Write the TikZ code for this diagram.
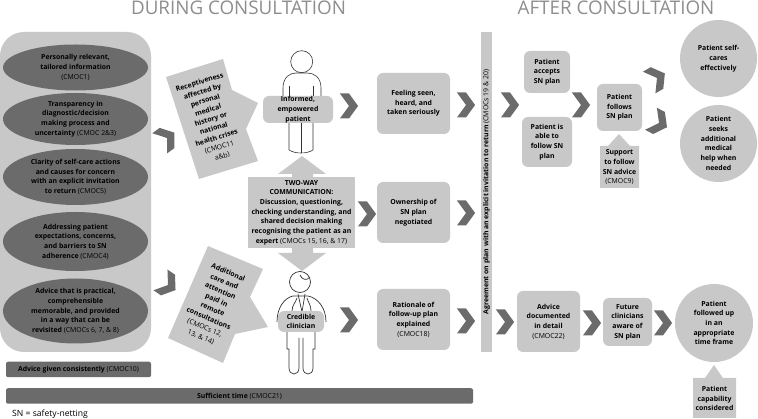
\documentclass[tikz,border=0pt]{standalone}
\usepackage{fontspec}
\setmainfont{Open Sans}
\usetikzlibrary{shapes.geometric, shapes.symbols}
\definecolor{lite}{HTML}{C8C8C8}
\definecolor{dark}{HTML}{6B6B6B}
\definecolor{head}{HTML}{8E8E8E}
\newcommand{\plain}[1]{{\mdseries #1}}

\begin{document}
\begin{tikzpicture}[
    x=1pt, y=-1pt,
    txt/.style={align=center, inner sep=0pt,
                font=\fontsize{6.9}{9.7}\selectfont\bfseries},
    box/.style={txt, fill=lite, rounded corners=6pt},
    oval/.style={txt, ellipse, fill=dark, minimum width=145},
    disc/.style={txt, circle, fill=lite, minimum size=77},
    bar/.style={txt, fill=dark, rounded corners=2pt, minimum height=15.5},
    chev/.style={signal, signal to=east, signal from=west, signal pointer angle=108,
                 fill=dark, inner sep=0pt, minimum width=17, minimum height=25},
    title/.style={inner sep=0pt, text=head, font=\fontsize{18.8}{20}\selectfont},
    figline/.style={line width=0.6pt, black!80}
  ]
  \useasboundingbox (0,0) rectangle (758,419);

  % Headings
  \node[title] (during) at (238.5,7.5) {DURING CONSULTATION};
  \node[title] (after) at (616,7.5) {AFTER CONSULTATION};

  % Left panel and ovals
  \fill[lite, rounded corners=24pt] (0,32) rectangle (151,352);
  \node[oval, minimum height=46] (oval1) at (75.5,67.5)
    {Personally relevant,\\tailored information\\\plain{(CMOC1)}};
  \node[oval, minimum height=52] (oval2) at (75.5,119)
    {Transparency in\\diagnostic/decision\\making process and\\uncertainty \plain{(CMOC 2\&3)}};
  \node[oval, minimum height=56] (oval3) at (75.5,177)
    {Clarity of self-care actions\\and causes for concern\\with an explicit invitation\\to return \plain{(CMOC5)}};
  \node[oval, minimum height=59] (oval4) at (75.5,241.5)
    {Addressing patient\\expectations, concerns,\\and barriers to SN\\adherence \plain{(CMOC4)}};
  \node[oval, minimum height=65] (oval5) at (75.5,311)
    {Advice that is practical,\\comprehensible\\memorable, and provided\\in a way that can be\\revisited \plain{(CMOCs 6, 7, \& 8)}};

  % Bars at the bottom
  \node[bar, minimum width=145] (consistent) at (78.5,369.5)
    {Advice given consistently \plain{(CMOC10)}};
  \node[bar, minimum width=467] (time) at (239.5,396)
    {Sufficient time \plain{(CMOC21)}};
  \node[inner sep=0pt, anchor=west, font=\fontsize{8.6}{10}\selectfont] (key) at (12,414)
    {SN = safety-netting};

  % Patient
  \draw[figline] (301.7,61.7) circle (11);
  \draw[figline] (283,97) -- (283,88) .. controls (283,77) and (290,73) .. (296,73)
    -- (307,73) .. controls (314,73) and (321,77) .. (321,88) -- (321,97);
  \draw[figline] (289,86) -- (289,98);
  \draw[figline] (313,86) -- (313,98);
  \draw[figline] (289,122) -- (289,150) .. controls (295,154) and (307,154) .. (313,150) -- (313,122);
  \draw[figline] (301.5,122) -- (301.5,153);

  % Clinician
  \draw[figline, line width=0.7pt] (300,282) circle (10.5);
  \draw[figline, line width=0.7pt] (300,275) .. controls (302,280) and (307,281) .. (310,277);
  \draw[figline, line width=0.7pt] (277,322) .. controls (277,308) and (284,298) .. (293,296)
    -- (308,296) .. controls (318,298) and (326,308) .. (326,322);
  \draw[figline, line width=0.7pt] (298,294) -- (302,312) -- (305,294);
  \draw[figline, line width=0.7pt] (292,311) .. controls (292,305) and (296,302) .. (297,298);
  \draw[figline, line width=0.7pt] (311,311) .. controls (311,305) and (308,302) .. (307,298);
  \draw[figline, line width=0.7pt] (287,331) -- (287,349) -- (289,349) -- (289,368)
    .. controls (289,376) and (299,376) .. (299,368) -- (299,338);
  \draw[figline, line width=0.7pt] (315,331) -- (315,349) -- (313,349) -- (313,368)
    .. controls (313,376) and (303,376) .. (303,368) -- (303,338);

  \node[box, minimum width=70, minimum height=27] (patient) at (298,109.5)
    {Informed,\\empowered\\patient};
  \node[box, minimum width=46, minimum height=21] (clinician) at (301,321.5)
    {Credible\\clinician};

  % Callouts next to the figures
  \fill[lite] (166,77) -- (223,59) -- (232,90) -- (258,103) -- (246,129)
    -- (258,161) -- (199,179) -- cycle;
  \node[txt, rotate=17] (receptive) at (211,119.5)
    {Receptiveness\\affected by\\personal\\medical\\history or\\national\\health crises\\\plain{(CMOC11}\\\plain{a\&b)}};
  \fill[lite] (208,246) -- (263,269) -- (250,297) -- (268,327) -- (235,334)
    -- (223,363) -- (168,338) -- cycle;
  \node[txt, rotate=-23, font=\fontsize{6.9}{10}\selectfont\bfseries] (additional) at (214.5,305)
    {Additional\\care and\\attention\\paid in\\remote\\consultations\\\plain{(CMOCs 12,}\\\plain{13, \& 14)}};

  % Two-way box with its arrows
  \fill[lite] (292,177) -- (292,174) -- (278,174) -- (302,156) -- (326,174) -- (313,174) -- (313,177) -- cycle;
  \fill[lite] (292,248) -- (292,253) -- (278,253) -- (302,271) -- (326,253) -- (313,253) -- (313,248) -- cycle;
  \node[txt, fill=lite, minimum width=107, minimum height=71] (twoway) at (301.5,212.5)
    {TWO-WAY\\COMMUNICATION:\\Discussion, questioning,\\checking understanding, and\\shared decision making\\recognising the patient as an\\expert \plain{(CMOCs 15, 16, \& 17)}};

  % Middle column
  \node[box, minimum width=73, minimum height=61] (seen) at (413.5,103.5)
    {Feeling seen,\\heard, and\\taken seriously};
  \node[box, minimum width=73, minimum height=61] (ownership) at (413.5,212.5)
    {Ownership of\\SN plan\\negotiated};
  \node[box, minimum width=73, minimum height=61] (rationale) at (413.5,319.5)
    {Rationale of\\follow-up plan\\explained\\\plain{(CMOC18)}};

  % Agreement bar
  \node[txt, fill=lite, rotate=90, minimum width=320, minimum height=11.5] (agreement) at (486.5,192)
    {Agreement on plan with an explicit invitation to return \plain{(CMOCs 19 \& 20)}};

  % After consultation
  \node[box, minimum width=46, minimum height=42] (accepts) at (547,72)
    {Patient\\accepts\\SN plan};
  \node[box, minimum width=50, minimum height=50] (able) at (547,142)
    {Patient is\\able to\\follow SN\\plan};
  \node[box, minimum width=45, minimum height=47] (follows) at (619.5,107.5)
    {Patient\\follows\\SN plan};
  \fill[lite] (600,146) -- (608,146) -- (619,134) -- (630,146) -- (639,146) -- (639,188) -- (600,188) -- cycle;
  \node[txt] (support) at (619.5,167.5)
    {Support\\to follow\\SN advice\\\plain{(CMOC9)}};
  \node[disc] (selfcare) at (718.5,58.5)
    {Patient self-\\cares\\effectively};
  \node[disc] (seeks) at (718.5,143.5)
    {Patient\\seeks\\additional\\medical\\help when\\needed};
  \node[box, minimum width=63, minimum height=61] (documented) at (548.5,321.5)
    {Advice\\documented\\in detail\\\plain{(CMOC22)}};
  \node[box, minimum width=49, minimum height=48] (future) at (627.5,322)
    {Future\\clinicians\\aware of\\SN plan};
  \node[disc, minimum size=78] (followedup) at (714,323)
    {Patient\\followed up\\in an\\appropriate\\time frame};
  \fill[lite] (693,378) -- (705,378) -- (714,365) -- (723,378) -- (736,378) -- (736,418) -- (693,418) -- cycle;
  \node[txt] (capability) at (714.5,398.5)
    {Patient\\capability\\considered};

  % Chevrons
  \node[chev, rotate=36] (c1) at (167,138) {};
  \node[chev, rotate=-34] (c2) at (168,285) {};
  \node[chev] (c3) at (349,106) {};
  \node[chev] (c4) at (367,214) {};
  \node[chev] (c5) at (349,320) {};
  \node[chev] (c6) at (466,105) {};
  \node[chev] (c7) at (466,213) {};
  \node[chev] (c8) at (466,321) {};
  \node[chev] (c9) at (510,105) {};
  \node[chev] (c10) at (505,322) {};
  \node[chev] (c11) at (581,105) {};
  \node[chev] (c12) at (592,323) {};
  \node[chev] (c13) at (663,323) {};
  \node[chev, rotate=30] (c14) at (657,78) {};
  \node[chev, rotate=-28] (c15) at (659,123) {};
\end{tikzpicture}
\end{document}
